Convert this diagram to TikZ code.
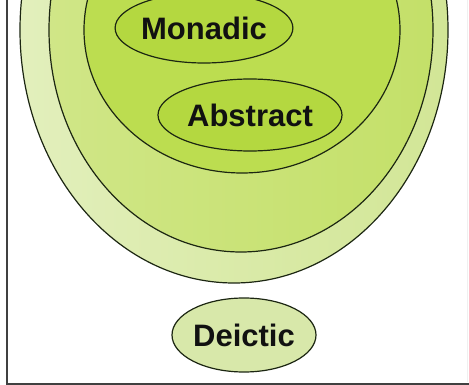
\documentclass[tikz,border=0pt]{standalone}
\usepackage{fontspec}
\setmainfont{Liberation Sans}
\usetikzlibrary{shapes.geometric}
\definecolor{outerL}{RGB}{226,239,188}
\definecolor{outerR}{RGB}{210,230,150}
\definecolor{midL}{RGB}{208,230,135}
\definecolor{midR}{RGB}{196,224,105}
\definecolor{innerfill}{RGB}{188,221,80}
\definecolor{smallfill}{RGB}{180,216,64}
\definecolor{deicfill}{RGB}{216,232,170}
\definecolor{edgecol}{RGB}{28,38,18}
\definecolor{framecol}{RGB}{64,64,64}
\definecolor{txtcol}{RGB}{17,17,17}
\begin{document}
\begin{tikzpicture}[x=1pt,y=-1pt,
  blob/.style={ellipse, draw=edgecol, line width=1.2pt, inner sep=0pt, outer sep=0pt},
  lab/.style={font=\bfseries\fontsize{31}{31}\selectfont, text=txtcol}]
\useasboundingbox (0,0) rectangle (469,385);
\begin{scope}
\clip (0,0) rectangle (469,385);
\node[blob, left color=outerL, right color=outerR, minimum width=428pt, minimum height=506pt] (outer) at (234,30) {};
\node[blob, left color=midL, right color=midR, minimum width=384pt, minimum height=444pt] (mid) at (241,30) {};
\node[blob, fill=innerfill, minimum width=316pt, minimum height=286pt] (inner) at (242,30) {};
\node[blob, fill=smallfill, minimum width=172pt, minimum height=70pt, lab] (monadic) at (204,28) {Monadic};
\node[blob, fill=smallfill, minimum width=184pt, minimum height=72pt, lab] (abstract) at (250,115) {Abstract};
\end{scope}
\node[blob, fill=deicfill, minimum width=144pt, minimum height=74pt, lab] (deictic) at (244,335) {Deictic};
\draw[framecol, line width=2pt] (7,0) -- (7,383.5) -- (469,383.5);
\draw[black!6, line width=1pt] (467,0) -- (467,382);
\end{tikzpicture}
\end{document}
